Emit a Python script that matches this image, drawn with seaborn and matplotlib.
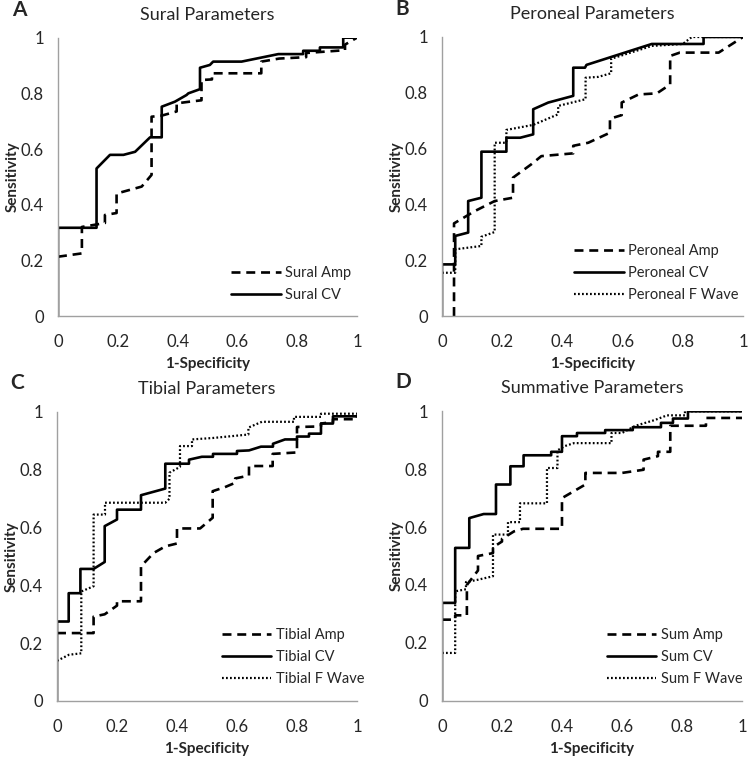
import matplotlib
matplotlib.use("Agg")
import matplotlib.pyplot as plt
import seaborn as sns

# ROC curves
sural_amp_x = [0, 0.08, 0.08, 0.157, 0.157, 0.196, 0.196, 0.28, 0.313, 0.313, 0.347, 0.397, 0.397,
               0.44, 0.48, 0.48, 0.515, 0.515, 0.68, 0.68, 0.74, 0.83, 0.83, 0.96, 0.96, 1.0]
sural_amp_y = [0.213, 0.225, 0.32, 0.334, 0.363, 0.37, 0.44, 0.465, 0.507, 0.716, 0.72, 0.735, 0.764,
               0.77, 0.775, 0.848, 0.85, 0.872, 0.872, 0.914, 0.925, 0.93, 0.945, 0.955, 0.975, 1.0]
sural_cv_x = [0, 0, 0.129, 0.129, 0.174, 0.219, 0.258, 0.308, 0.347, 0.347, 0.391, 0.43, 0.436,
              0.475, 0.475, 0.508, 0.519, 0.614, 0.737, 0.82, 0.82, 0.876, 0.876, 0.954, 0.954, 1.0]
sural_cv_y = [0, 0.317, 0.317, 0.53, 0.579, 0.579, 0.59, 0.642, 0.642, 0.752, 0.77, 0.794, 0.80,
              0.815, 0.892, 0.902, 0.914, 0.914, 0.941, 0.941, 0.953, 0.953, 0.965, 0.965, 1.0, 1.0]

peroneal_amp_x = [0.04, 0.04, 0.109, 0.175, 0.236, 0.236, 0.297, 0.33, 0.436, 0.436, 0.486, 0.558,
                  0.558, 0.597, 0.597, 0.653, 0.714, 0.758, 0.758, 0.79, 0.919, 1.0]
peroneal_amp_y = [0, 0.332, 0.376, 0.412, 0.424, 0.496, 0.544, 0.573, 0.583, 0.61, 0.621, 0.657,
                  0.707, 0.72, 0.765, 0.794, 0.798, 0.83, 0.932, 0.944, 0.944, 1.0]
peroneal_cv_x = [0, 0, 0.044, 0.044, 0.087, 0.087, 0.131, 0.131, 0.214, 0.214, 0.26, 0.303, 0.303,
                 0.353, 0.436, 0.436, 0.475, 0.48, 0.697, 0.869, 0.869, 1.0]
peroneal_cv_y = [0, 0.185, 0.185, 0.287, 0.299, 0.412, 0.424, 0.589, 0.589, 0.639, 0.639, 0.651, 0.741,
                 0.765, 0.789, 0.89, 0.89, 0.90, 0.975, 0.975, 1.0, 1.0]
peroneal_fw_x = [0, 0.044, 0.044, 0.131, 0.131, 0.175, 0.175, 0.214, 0.214, 0.303, 0.386, 0.386,
                 0.477, 0.477, 0.519, 0.562, 0.562, 0.697, 0.80, 0.83, 1.0]
peroneal_fw_y = [0.155, 0.155, 0.239, 0.251, 0.284, 0.301, 0.621, 0.621, 0.667, 0.685, 0.723, 0.753,
                 0.777, 0.854, 0.857, 0.87, 0.922, 0.968, 0.975, 1.0, 1.0]

tibial_amp_x = [0, 0.122, 0.122, 0.159, 0.20, 0.20, 0.28, 0.28, 0.322, 0.361, 0.40, 0.40, 0.477, 0.519,
                0.519, 0.56, 0.594, 0.594, 0.64, 0.64, 0.719, 0.719, 0.80, 0.80, 0.88, 0.88, 0.92, 0.92,
                1.0, 1.0]
tibial_amp_y = [0.235, 0.235, 0.292, 0.30, 0.33, 0.345, 0.345, 0.466, 0.512, 0.535, 0.545, 0.597, 0.597,
                0.634, 0.726, 0.74, 0.755, 0.77, 0.78, 0.813, 0.813, 0.855, 0.86, 0.948, 0.95, 0.96,
                0.965, 0.975, 0.975, 0.99]
tibial_cv_x = [0, 0, 0.039, 0.039, 0.078, 0.078, 0.122, 0.159, 0.159, 0.20, 0.20, 0.28, 0.28, 0.361,
               0.361, 0.44, 0.44, 0.483, 0.52, 0.52, 0.60, 0.60, 0.64, 0.68, 0.72, 0.72, 0.76, 0.80,
               0.80, 0.84, 0.84, 0.88, 0.88, 0.92, 0.92, 1.0]
tibial_cv_y = [0, 0.275, 0.275, 0.373, 0.373, 0.457, 0.457, 0.481, 0.605, 0.628, 0.662, 0.662, 0.712,
               0.735, 0.821, 0.821, 0.835, 0.845, 0.845, 0.855, 0.855, 0.865, 0.867, 0.88, 0.88, 0.89,
               0.905, 0.905, 0.915, 0.915, 0.925, 0.925, 0.96, 0.96, 0.985, 0.985]
tibial_fw_x = [0, 0.04, 0.081, 0.081, 0.122, 0.122, 0.16, 0.16, 0.361, 0.375, 0.375, 0.41, 0.41, 0.45,
               0.45, 0.52, 0.638, 0.638, 0.683, 0.79, 0.79, 0.88, 0.88, 1.0]
tibial_fw_y = [0.139, 0.16, 0.165, 0.379, 0.397, 0.645, 0.645, 0.686, 0.686, 0.70, 0.79, 0.81, 0.882,
               0.882, 0.905, 0.91, 0.922, 0.946, 0.966, 0.966, 0.983, 0.983, 0.994, 0.994]

sum_amp_x = [0, 0.044, 0.044, 0.083, 0.083, 0.12, 0.12, 0.17, 0.17, 0.20, 0.20, 0.24, 0.27, 0.40, 0.40,
             0.478, 0.478, 0.60, 0.672, 0.672, 0.72, 0.72, 0.761, 0.761, 0.88, 0.88, 1.0]
sum_amp_y = [0.28, 0.28, 0.295, 0.295, 0.40, 0.45, 0.50, 0.51, 0.53, 0.55, 0.559, 0.585, 0.594, 0.594,
             0.70, 0.747, 0.787, 0.787, 0.798, 0.833, 0.845, 0.86, 0.86, 0.95, 0.95, 0.977, 0.977]
sum_cv_x = [0, 0, 0.044, 0.044, 0.091, 0.091, 0.139, 0.18, 0.18, 0.228, 0.228, 0.272, 0.272, 0.364,
            0.364, 0.40, 0.40, 0.45, 0.45, 0.544, 0.544, 0.636, 0.636, 0.73, 0.73, 0.77, 0.77, 0.82,
            0.82, 1.0]
sum_cv_y = [0, 0.338, 0.338, 0.528, 0.528, 0.631, 0.645, 0.645, 0.747, 0.747, 0.81, 0.81, 0.848, 0.848,
            0.86, 0.86, 0.914, 0.914, 0.925, 0.925, 0.935, 0.935, 0.945, 0.945, 0.96, 0.96, 0.975,
            0.975, 1.0, 1.0]
sum_fw_x = [0, 0.044, 0.044, 0.08, 0.08, 0.12, 0.17, 0.17, 0.22, 0.22, 0.26, 0.26, 0.35, 0.35, 0.385,
            0.385, 0.41, 0.44, 0.565, 0.565, 0.60, 0.645, 0.71, 0.75, 0.81, 0.81, 1.0]
sum_fw_y = [0.165, 0.165, 0.378, 0.385, 0.41, 0.418, 0.43, 0.574, 0.574, 0.617, 0.617, 0.682, 0.682,
            0.804, 0.804, 0.865, 0.88, 0.89, 0.89, 0.925, 0.925, 0.95, 0.97, 0.986, 0.986, 1.0, 1.0]

ticks = [0, 0.2, 0.4, 0.6, 0.8, 1]
tick_labels = ["0", "0.2", "0.4", "0.6", "0.8", "1"]

sns.set_style("white")
plt.rcParams["font.family"] = ["Lato", "DejaVu Sans"]

styles = {
    "amp": dict(lw=1.9, dashes=(3.4, 2.2)),
    "cv": dict(lw=1.9, ls="-"),
    "fw": dict(lw=1.6, dashes=(0.8, 1.0)),
}

panels = [
    ("A", "Sural Parameters", [0.0774, 0.5831, 0.3992, 0.3672],
     [("amp", "Sural Amp", sural_amp_x, sural_amp_y),
      ("cv", "Sural CV", sural_cv_x, sural_cv_y)], 0.58),
    ("B", "Peroneal Parameters", [0.5901, 0.5831, 0.4019, 0.3681],
     [("amp", "Peroneal Amp", peroneal_amp_x, peroneal_amp_y),
      ("cv", "Peroneal CV", peroneal_cv_x, peroneal_cv_y),
      ("fw", "Peroneal F Wave", peroneal_fw_x, peroneal_fw_y)], 0.44),
    ("C", "Tibial Parameters", [0.0761, 0.0752, 0.4005, 0.3813],
     [("amp", "Tibial Amp", tibial_amp_x, tibial_amp_y),
      ("cv", "Tibial CV", tibial_cv_x, tibial_cv_y),
      ("fw", "Tibial F Wave", tibial_fw_x, tibial_fw_y)], 0.55),
    ("D", "Summative Parameters", [0.5901, 0.0756, 0.4005, 0.3818],
     [("amp", "Sum Amp", sum_amp_x, sum_amp_y),
      ("cv", "Sum CV", sum_cv_x, sum_cv_y),
      ("fw", "Sum F Wave", sum_fw_x, sum_fw_y)], 0.55),
]

fig = plt.figure(figsize=(7.49, 7.58), dpi=100)

for letter, title, rect, series, leg_x in panels:
    ax = fig.add_axes(rect)
    for kind, label, xs, ys in series:
        sns.lineplot(x=xs, y=ys, ax=ax, color="black", sort=False, estimator=None,
                     label=label, **styles[kind])
    ax.set_xlim(0, 1)
    ax.set_ylim(0, 1)
    ax.set_xticks(ticks)
    ax.set_xticklabels(tick_labels)
    ax.set_yticks(ticks)
    ax.set_yticklabels(tick_labels)
    ax.tick_params(axis="x", length=0, labelsize=12, pad=13)
    ax.tick_params(axis="y", length=0, labelsize=12, pad=10)
    for side in ["top", "right"]:
        ax.spines[side].set_visible(False)
    for side in ["left", "bottom"]:
        ax.spines[side].set_color("#a0a0a0")
        ax.spines[side].set_linewidth(1.0)
    ax.set_xlabel("1-Specificity", fontsize=11, fontweight="bold", labelpad=5)
    ax.set_ylabel("Sensitivity", fontsize=11, fontweight="bold")
    ax.yaxis.set_label_coords(-0.127, 0.5)
    ax.set_title(title, fontsize=13, pad=13)
    ax.text(-0.155, 1.1, letter, transform=ax.transAxes, fontsize=15, fontweight="bold",
            va="center", ha="left")
    ax.legend(loc="lower left", bbox_to_anchor=(leg_x - 0.02, 0.03), frameon=False,
              fontsize=10.5, handlelength=3.4, handletextpad=0.3, labelspacing=0.55,
              borderaxespad=0)

fig.savefig("out.png", dpi=100)
